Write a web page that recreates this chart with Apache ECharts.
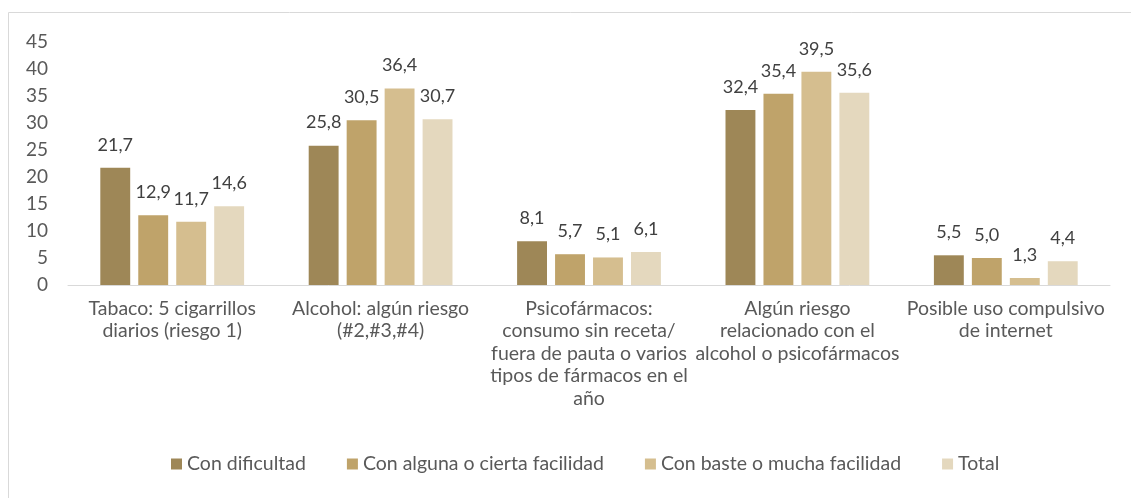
<!DOCTYPE html>
<html>
<head>
<meta charset="utf-8">
<script src="https://cdn.jsdelivr.net/npm/echarts@6/dist/echarts.min.js"></script>
<style>
  html, body { margin: 0; padding: 0; background: #fff; }
  #main { width: 1131px; height: 498px; }
</style>
</head>
<body>
<div id="main"></div>
<script>
// categories (line breaks as in the original)
const categories = [
    "Tabaco: 5 cigarrillos\ndiarios (riesgo 1)",
    "Alcohol: algún riesgo\n(#2,#3,#4)",
    "Psicofármacos:\nconsumo sin receta/\nfuera de pauta o varios\ntipos de fármacos en el\naño",
    "Algún riesgo\nrelacionado con el\nalcohol o psicofármacos",
    "Posible uso compulsivo\nde internet"
];

const seriesNames = ["Con dificultad", "Con alguna o cierta facilidad", "Con baste o mucha facilidad", "Total"];
const conDificultad = [21.7, 25.8, 8.1, 32.4, 5.5];
const conAlguna = [12.9, 30.5, 5.7, 35.4, 5.0];
const conBaste = [11.7, 36.4, 5.1, 39.5, 1.3];
const total = [14.6, 30.7, 6.1, 35.6, 4.4];
const yTicks = [0, 5, 10, 15, 20, 25, 30, 35, 40, 45];

const colors = ["#9e8757", "#bfa36a", "#d5be8f", "#e4d8be"];
const font = "Lato";
const textColor = "#595959";

let chart = echarts.init(document.getElementById("main"));

const allValues = [conDificultad, conAlguna, conBaste, total];

let option = {
    animation: false,
    color: colors,
    textStyle: {fontFamily: font},
    graphic: [{
        type: "rect",
        shape: {x: 8.5, y: 12.5, width: 1200, height: 600},
        style: {fill: "none", stroke: "#d9d9d9", lineWidth: 1},
        silent: true
    }],
    grid: {left: 68, right: 21, top: 42, bottom: 213},
    legend: {
        bottom: 19,
        left: 166,
        itemWidth: 11,
        itemHeight: 11,
        itemGap: 41,
        icon: "rect",
        textStyle: {color: textColor, fontSize: 19.5, fontFamily: font},
        data: seriesNames
    },
    xAxis: {
        type: "category",
        data: categories,
        axisLine: {lineStyle: {color: "#d9d9d9", width: 1}},
        axisTick: {show: false},
        axisLabel: {color: textColor, fontSize: 19.5, fontFamily: font, lineHeight: 22.5, margin: 12, interval: 0}
    },
    yAxis: {
        type: "value",
        min: yTicks[0],
        max: yTicks[yTicks.length - 1],
        interval: 5,
        splitLine: {show: false},
        axisLine: {show: false},
        axisTick: {show: false},
        axisLabel: {color: textColor, fontSize: 19, fontFamily: font, margin: 20}
    },
    series: seriesNames.map(function (name, i) {
        return {
            name: name,
            type: "bar",
            data: allValues[i],
            barGap: "27%",
            barCategoryGap: "31%",
            label: {
                show: true,
                position: "top",
                distance: 14,
                color: "#404040",
                fontSize: 18,
                fontFamily: font,
                formatter: function (p) {
                    return p.value.toFixed(1).replace(".", ",");
                }
            }
        };
    })
};

chart.setOption(option);
</script>
</body>
</html>
